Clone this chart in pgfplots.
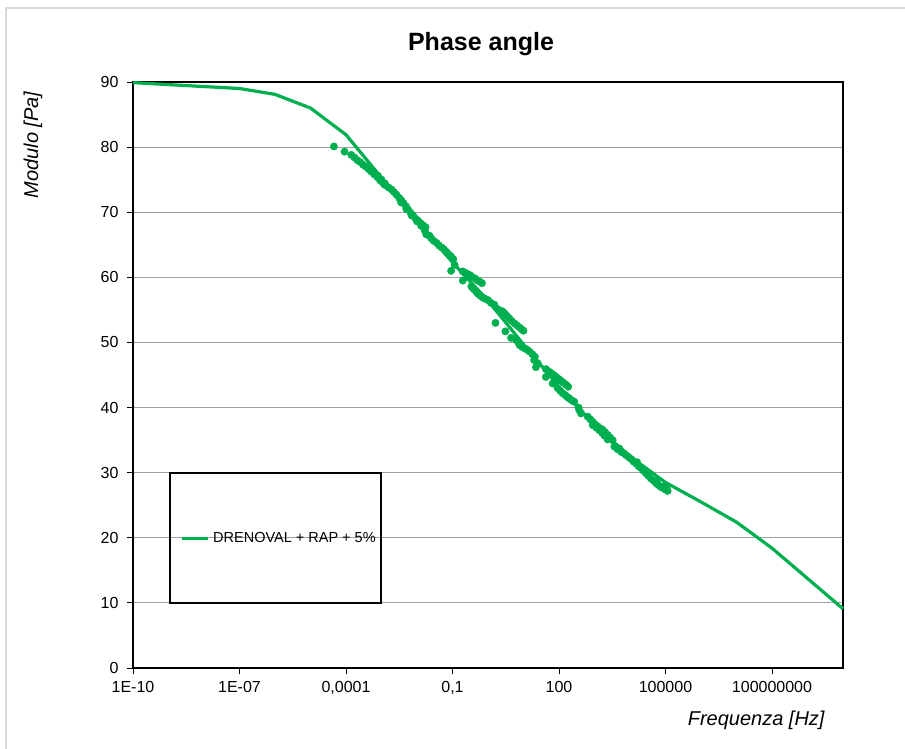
\documentclass[border=0pt]{standalone}
\usepackage{fontspec}
\setmainfont{Liberation Sans}
\usepackage{pgfplots}
\usepackage{pgfplotstable}
\pgfplotsset{compat=1.18}

\definecolor{exgreen}{RGB}{0,176,80}
\definecolor{gridgray}{RGB}{160,160,160}
\definecolor{framegray}{RGB}{217,217,217}

% model curve: log10 of frequency, phase angle
\pgfplotstableread{
lf y
-10 89.9
-7 89.0
-6 88.1
-5 86.0
-4 81.9
-3 75.3
-2 68.6
-1 62.3
0 56.4
1 49.7
2 43.2
3 37.3
4 32.5
5 28.5
6 25.5
7 22.4
8 18.4
10 9.1
}\modelcurve

% measured points: log10 of frequency, phase angle
\pgfplotstableread{
lf y
-4.34 80.1
-4.04 79.3
-3.85 78.8
-3.76 78.4
-3.68 78.0
-3.60 77.7
-3.52 77.3
-3.44 77.0
-3.36 76.6
-3.28 76.2
-3.20 75.8
-3.12 75.4
-3.04 74.9
-2.96 74.5
-2.91 74.2
-3.10 75.6
-3.00 75.0
-2.90 74.4
-2.80 73.8
-2.72 73.5
-2.65 73.1
-2.58 72.7
-2.50 72.2
-2.44 71.8
-2.38 71.4
-2.31 70.9
-2.25 70.4
-2.18 69.9
-2.11 69.5
-2.04 69.0
-1.97 68.7
-1.90 68.3
-1.83 68.0
-1.76 67.7
-2.45 71.5
-2.30 70.5
-2.15 69.5
-2.00 68.6
-1.88 67.9
-1.78 67.2
-1.74 66.6
-1.65 66.4
-1.60 66.0
-1.53 65.6
-1.45 65.3
-1.38 64.9
-1.31 64.6
-1.24 64.3
-1.17 63.9
-1.10 63.5
-1.04 63.2
-0.98 62.8
-0.94 61.9
-1.04 61.0
-0.71 60.9
-0.64 60.7
-0.57 60.5
-0.50 60.3
-0.43 60.0
-0.36 59.8
-0.29 59.5
-0.22 59.3
-0.17 59.1
-0.71 59.5
-0.47 58.6
-0.42 58.3
-0.38 58.1
-0.33 57.8
-0.29 57.5
-0.22 57.2
-0.15 56.9
-0.08 56.7
0.00 56.5
0.08 56.1
0.18 55.8
0.28 55.1
0.21 53.0
0.40 54.8
0.46 54.5
0.53 54.1
0.60 53.7
0.67 53.3
0.75 52.9
0.82 52.6
0.89 52.3
0.95 52.0
1.00 51.8
0.49 51.7
0.65 50.7
0.79 50.4
0.85 50.0
0.89 49.6
0.96 49.3
1.03 49.1
1.10 48.9
1.17 48.6
1.25 48.2
1.32 47.8
1.30 47.3
1.40 46.8
1.35 46.2
1.63 45.9
1.70 45.6
1.78 45.3
1.85 45.0
1.92 44.7
1.99 44.4
2.06 44.1
2.13 43.8
2.20 43.5
2.26 43.2
1.63 44.7
1.82 43.7
1.96 43.0
2.03 42.6
2.10 42.2
2.18 41.9
2.24 41.6
2.29 41.4
2.36 41.1
2.43 40.9
2.55 40.0
2.57 39.6
2.62 39.1
2.81 38.6
2.88 38.2
2.95 37.8
3.02 37.4
3.09 37.1
3.16 36.8
3.23 36.6
3.30 36.2
3.37 35.8
3.44 35.4
3.51 35.0
2.95 37.3
3.05 36.9
3.14 36.5
3.22 36.1
3.28 35.7
3.37 35.1
3.56 34.0
3.65 33.6
3.70 33.7
3.75 33.2
3.82 33.0
3.89 32.7
3.96 32.4
4.03 32.1
4.10 31.7
4.17 31.4
4.20 31.6
4.24 31.0
4.31 30.7
4.38 30.3
4.45 29.9
4.50 29.9
4.52 29.5
4.59 29.1
4.66 28.8
4.73 28.4
4.75 28.7
4.80 28.1
4.87 27.8
4.94 27.6
4.95 27.9
5.00 27.4
5.03 27.6
5.06 27.2
}\measured

\begin{document}
\begin{tikzpicture}[x=1pt,y=1pt]
\useasboundingbox (0,0) rectangle (905,749);
% chart area border
\draw[framegray, line width=1.2pt] (6,-10) rectangle (920,741);

\node[font=\bfseries\fontsize{25}{30}\selectfont] at (481,705) {Phase angle};

\begin{axis}[
  at={(133pt,81pt)}, anchor=south west,
  width=710pt, height=586pt, scale only axis,
  xmin=-10, xmax=10, ymin=0, ymax=90,
  xtick={-10,-7,-4,-1,2,5,8},
  xticklabels={1E-10,1E-07,{0,0001},{0,1},100,100000,100000000},
  ytick={0,10,...,90},
  tick pos=left,
  tick align=outside, major tick length=6pt,
  tick style={black, line width=0.8pt},
  axis line style={black, line width=1.2pt},
  ymajorgrids, grid style={gridgray, line width=1pt},
  ticklabel style={font=\fontsize{16}{19}\selectfont},
  yticklabel style={/pgf/number format/assume math mode=true, xshift=-5pt},
  xticklabel style={yshift=-4pt},
  xlabel={Frequenza [Hz]},
  ylabel={Modulo [Pa]},
  label style={font=\itshape\fontsize{20}{24}\selectfont},
  xlabel style={at={(axis description cs:0.979,-0.0887)}, anchor=east},
  ylabel style={at={(axis description cs:-0.1408,0.8925)}, anchor=center, rotate=0},
  legend style={at={(axis description cs:0.0662,0.2218)}, anchor=west,
    draw=none, fill=none, inner sep=0pt,
    font=\fontsize{14.5}{17}\selectfont},
  legend image code/.code={\draw[#1, line width=3pt] (0pt,0pt) -- (26pt,0pt);},
  clip=false,
]
\addplot[only marks, mark=*, mark size=3.7pt, exgreen, forget plot]
  table[x=lf, y=y] {\measured};
\addplot[exgreen, line width=3.2pt, line join=round] table[x=lf, y=y] {\modelcurve};
\addlegendentry{\hspace{2pt}DRENOVAL + RAP + 5\%}
\end{axis}

% legend frame
\draw[black, line width=1.2pt] (170,146) rectangle (381,276);
\end{tikzpicture}
\end{document}
